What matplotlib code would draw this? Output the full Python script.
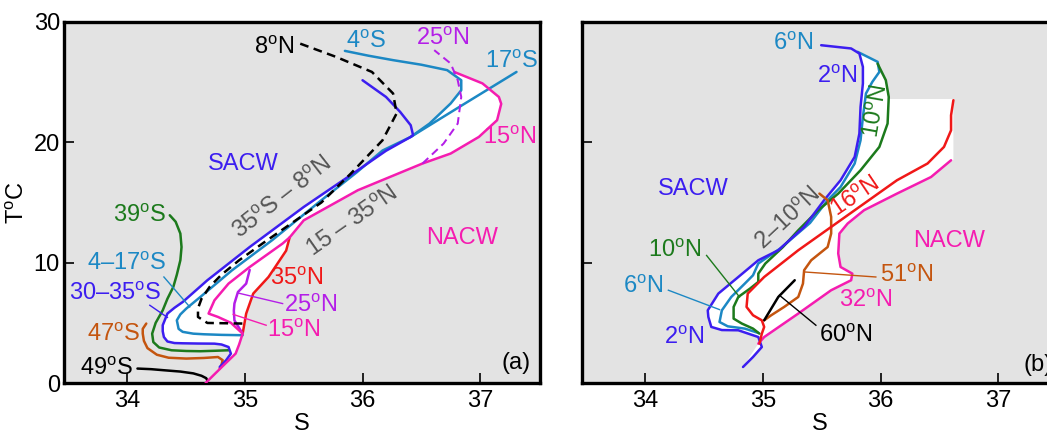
import numpy as np
import matplotlib
matplotlib.use('Agg')
import matplotlib.pyplot as plt

plt.rcParams['font.family'] = 'Liberation Sans'
plt.rcParams['mathtext.fontset'] = 'custom'
plt.rcParams['mathtext.rm'] = 'Liberation Sans'
plt.rcParams['mathtext.it'] = 'Liberation Sans:italic'

D = r'$^{\mathrm{o}}$'

BLUE = '#3c1ef0'
CYAN = '#1c88c4'
GREEN = '#1c7a1c'
ORANGE = '#c4550f'
MAGENTA = '#f51cb0'
PURPLE = '#b41ee8'
RED = '#f01818'
GREY = '#555555'
BG = '#e3e3e3'

XTICKS = [34, 35, 36, 37]
YTICKS = [0, 10, 20, 30]

# ---------------- panel (a) : S, T pairs ----------------
a49s_S = [34.085, 34.2, 34.31, 34.45, 34.56, 34.63, 34.67, 34.68]
a49s_T = [1.2, 1.15, 1.06, 0.95, 0.8, 0.6, 0.4, 0.2]

a47s_S = [34.16, 34.13, 34.13, 34.14, 34.17, 34.25, 34.35, 34.50, 34.65, 34.77, 34.81, 34.80, 34.785]
a47s_T = [4.94, 4.5, 4.1, 3.5, 2.9, 2.35, 2.1, 2.03, 2.08, 2.16, 1.9, 1.5, 1.2]

a39s_S = [34.36, 34.41, 34.45, 34.46, 34.45, 34.42, 34.39, 34.34, 34.30, 34.24, 34.21, 34.22,
          34.27, 34.375, 34.5, 34.62, 34.75, 34.86]
a39s_T = [13.94, 13.4, 12.42, 11.3, 10.2, 9.0, 7.98, 7.0, 6.04, 5.0, 4.1, 3.4,
          2.95, 2.72, 2.66, 2.64, 2.68, 2.72]

# 30-35S (SACW envelope) + upper branch
a30s_S = [34.785, 34.84, 34.88, 34.86, 34.8, 34.74, 34.6, 34.47, 34.40, 34.34, 34.31, 34.30, 34.30,
          34.34, 34.40, 34.47, 34.68, 35.04, 35.50, 35.96, 36.20, 36.41,
          36.43, 36.41, 36.32, 36.20, 36.0]
a30s_T = [1.33, 1.9, 2.44, 2.99, 3.2, 3.27, 3.28, 3.3, 3.32, 3.45, 3.82, 4.3, 4.8,
          5.77, 6.25, 6.73, 8.54, 11.3, 14.63, 17.68, 19.3, 20.45,
          20.6, 21.42, 22.53, 23.77, 25.16]
A30_JUNCTION = 21

# 4-17S (lower) + 4S branch
a4s_S = [34.98, 34.8, 34.65, 34.56, 34.47, 34.435, 34.42, 34.45, 34.50, 34.62, 34.89, 35.23, 35.65,
         35.95, 36.17, 36.41, 36.57, 36.75, 36.84, 36.84, 36.72, 36.5, 36.26, 36.05, 35.85]
a4s_T = [3.97, 4.0, 4.05, 4.1, 4.25, 4.5, 5.21, 5.7, 6.18, 7.15, 9.37, 11.86, 15.19,
         17.5, 19.32, 20.45, 21.56, 23.23, 24.33, 25.16, 26.0, 26.45, 26.83, 27.2, 27.6]
A4_JUNCTION = 15
A4_TOP = 19

a17s_S = [36.41, 36.85, 37.31]
a17s_T = [20.45, 23.1, 25.85]

a8n_S = [35.47, 35.775, 36.08, 36.26, 36.29, 36.17, 35.90, 35.65, 35.40, 35.15, 34.95, 34.80,
         34.70, 34.63, 34.60, 34.60, 34.68, 34.98]
a8n_T = [28.2, 27.1, 25.85, 24.06, 22.4, 20.17, 17.4, 15.0, 13.3, 11.6, 10.2, 9.0,
         8.0, 7.0, 6.2, 5.49, 4.99, 4.94]

a15n_S = [36.78, 37.02, 37.16, 37.18, 37.145, 36.99, 36.75, 36.51, 35.96, 35.50, 35.38, 35.32,
          35.04, 34.86, 34.74, 34.69, 34.77, 34.88, 34.98, 34.95, 34.92, 34.81, 34.665]
a15n_T = [25.85, 24.9, 23.77, 23.2, 21.84, 20.45, 19.07, 18.24, 16.02, 13.52, 12.1, 11.59,
          9.64, 8.26, 6.87, 5.77, 5.49, 5.0, 4.1, 3.2, 2.44, 1.4, 0.0]
A15_RED = 10
A15_DEEP = 18

a35n_S = [34.98, 35.01, 35.07, 35.20, 35.35, 35.38]
a35n_T = [4.1, 5.77, 7.43, 8.81, 11.0, 12.1]

a25n_S = [34.98, 34.91, 34.905, 34.91, 34.94, 35.01, 35.04]
a25n_T = [4.1, 5.21, 6.0, 6.6, 7.56, 8.26, 9.4]
a25n_up_S = [36.51, 36.69, 36.81, 36.84, 36.81, 36.75, 36.61]
a25n_up_T = [18.24, 19.9, 21.56, 23.77, 25.16, 26.55, 27.66]

# leaders: (S pair, T pair, colour)
a_leaders = [([34.31, 34.53], [8.81, 6.32], CYAN),
             ([34.19, 34.34], [6.46, 5.45], BLUE),
             ([35.32, 34.94], [6.6, 7.48], PURPLE),
             ([35.18, 34.90], [4.8, 5.7], MAGENTA)]

a_labels = [('8' + D + 'N', 35.25, 27.86, 'k', 0),
            ('4' + D + 'S', 36.03, 28.35, CYAN, 0),
            ('25' + D + 'N', 36.68, 28.57, PURPLE, 0),
            ('17' + D + 'S', 37.27, 26.7, CYAN, 0),
            ('15' + D + 'N', 37.25, 20.4, MAGENTA, 0),
            ('SACW', 34.985, 18.2, BLUE, 0),
            ('35' + D + 'S – 8' + D + 'N', 35.32, 15.4, GREY, 38),
            ('15 – 35' + D + 'N', 35.92, 13.4, GREY, 35),
            ('NACW', 36.85, 12.07, MAGENTA, 0),
            ('39' + D + 'S', 34.10, 13.86, GREEN, 0),
            ('4–17' + D + 'S', 33.99, 9.9, CYAN, 0),
            ('30–35' + D + 'S', 33.895, 7.37, BLUE, 0),
            ('47' + D + 'S', 33.88, 3.96, ORANGE, 0),
            ('49' + D + 'S', 33.82, 1.18, 'k', 0),
            ('35' + D + 'N', 35.44, 8.62, RED, 0),
            ('25' + D + 'N', 35.555, 6.38, PURPLE, 0),
            ('15' + D + 'N', 35.41, 4.3, MAGENTA, 0),
            ('(a)', 37.305, 1.68, 'k', 0)]

# ---------------- panel (b) ----------------
b2n_S = [35.495, 35.75, 35.82, 35.85, 35.85, 35.83, 35.82, 35.78, 35.66, 35.52, 35.35, 35.13, 34.96,
         34.79, 34.62, 34.53, 34.535, 34.56, 34.65, 34.79, 34.96, 34.99, 34.915, 34.83]
b2n_T = [28.07, 27.8, 27.38, 26.27, 24.89, 22.94, 20.73, 18.79, 16.85, 15.19, 12.97, 11.03, 10.2,
         8.81, 7.43, 6.04, 5.49, 4.66, 4.4, 4.38, 3.82, 2.99, 2.16, 1.33]

b6n_S = [35.805, 35.975, 35.99, 35.93, 35.876, 35.85, 35.83, 35.78, 35.66, 35.55, 35.40, 35.15,
         34.96, 34.915, 34.845, 34.73, 34.65, 34.63, 34.70, 34.845, 34.96]
b6n_T = [27.52, 26.69, 25.85, 25.02, 24.06, 22.11, 20.17, 18.24, 16.29, 15.19, 13.3, 11.2,
         9.93, 8.95, 8.26, 7.15, 6.04, 5.07, 4.71, 4.52, 4.16]

b10n_S = [35.975, 36.045, 36.07, 36.06, 35.99, 35.83, 35.64, 35.47, 35.30, 35.17, 35.02, 34.96,
          34.96, 34.89, 34.79, 34.75, 34.75, 34.82, 34.915, 34.97]
b10n_T = [26.54, 25.16, 23.77, 21.56, 19.62, 17.68, 15.74, 14.36, 12.69, 11.3, 9.93, 9.09,
          8.4, 7.85, 7.15, 6.32, 5.35, 4.94, 4.52, 4.1]

b16n_S = [36.62, 36.60, 36.60, 36.54, 36.40, 36.14, 35.86, 35.58, 35.30, 35.01, 34.87, 34.86,
          34.915, 34.99, 35.01, 34.99, 34.97]
b16n_T = [23.5, 22.25, 21.0, 19.62, 18.24, 16.85, 14.91, 12.97, 11.03, 8.81, 7.43, 6.32,
          5.63, 5.21, 4.66, 4.1, 3.27]

b51n_S = [35.48, 35.55, 35.58, 35.58, 35.55, 35.41, 35.35, 35.34, 35.30, 35.18, 35.07, 35.01]
b51n_T = [15.74, 15.19, 13.8, 12.42, 11.3, 10.2, 9.37, 8.26, 7.15, 6.32, 5.63, 5.21]

b60n_S = [35.01, 35.13, 35.27]
b60n_T = [5.21, 7.15, 8.54]

b32n_S = [36.60, 36.43, 36.14, 35.86, 35.72, 35.65, 35.64, 35.66, 35.76, 35.75, 35.58, 35.30,
          35.01, 34.96]
b32n_T = [18.51, 17.12, 15.74, 14.36, 13.25, 12.42, 10.76, 9.64, 9.09, 8.54, 7.71, 5.77,
          3.82, 3.27]

B_TOP_T = 23.6          # upper edge of the white band in (b)

b_leaders = [([34.195, 34.63], [7.71, 6.1], CYAN),
             ([34.52, 34.80], [10.6, 7.15], GREEN),
             ([35.96, 35.35], [8.81, 9.23], ORANGE),
             ([35.45, 35.14], [4.8, 7.29], 'k')]

b_labels = [('6' + D + 'N', 35.26, 28.15, CYAN, 0),
            ('2' + D + 'N', 35.63, 25.44, BLUE, 0),
            ('10' + D + 'N', 35.97, 22.6, GREEN, 80),
            ('2–10' + D + 'N', 35.22, 13.6, GREY, 43),
            ('16' + D + 'N', 35.785, 15.46, RED, 34),
            ('SACW', 34.41, 16.1, BLUE, 0),
            ('NACW', 36.58, 11.78, MAGENTA, 0),
            ('10' + D + 'N', 34.25, 10.95, GREEN, 0),
            ('6' + D + 'N', 33.98, 7.96, CYAN, 0),
            ('51' + D + 'N', 36.22, 8.87, ORANGE, 0),
            ('32' + D + 'N', 35.87, 6.8, MAGENTA, 0),
            ('60' + D + 'N', 35.70, 3.9, 'k', 0),
            ('2' + D + 'N', 34.33, 3.76, BLUE, 0)]

LW = 1.8
LWL = 1.0
FS = 17


def setup(ax, ylabels=True):
    ax.set_facecolor(BG)
    ax.set_xlim(33.46, 37.51)
    ax.set_ylim(0, 30)
    ax.set_xticks(XTICKS)
    ax.set_yticks(YTICKS)
    if not ylabels:
        ax.set_yticklabels([])
    ax.tick_params(direction='in', length=7, width=1.2, labelsize=17, pad=3)
    ax.tick_params(axis='x', pad=5)
    for sp in ax.spines.values():
        sp.set_linewidth(2.4)
    ax.set_xlabel('S', fontsize=17, labelpad=1)


def put_labels(ax, labels):
    for txt, s, t, c, rot in labels:
        ax.text(s, t, txt, color=c, fontsize=FS, rotation=rot,
                ha='center', va='center', rotation_mode='anchor')


fig = plt.figure(figsize=(10.47, 4.38), dpi=100)
axa = fig.add_axes([64 / 1047, 55 / 438, 476 / 1047, 361 / 438])
axb = fig.add_axes([582 / 1047, 55 / 438, 476 / 1047, 361 / 438])

# ---- (a)
setup(axa)
axa.set_ylabel('T' + D + 'C', fontsize=17, labelpad=3)

wa_S = np.concatenate([a30s_S[:A30_JUNCTION + 1], a4s_S[A4_JUNCTION + 1:A4_TOP + 1],
                       a15n_S[:A15_RED + 1], a35n_S[::-1], a15n_S[A15_DEEP + 1:]])
wa_T = np.concatenate([a30s_T[:A30_JUNCTION + 1], a4s_T[A4_JUNCTION + 1:A4_TOP + 1],
                       a15n_T[:A15_RED + 1], a35n_T[::-1], a15n_T[A15_DEEP + 1:]])
axa.fill(wa_S, wa_T, color='white', lw=0, zorder=1)

for s, t, c in [(a49s_S, a49s_T, 'k'), (a47s_S, a47s_T, ORANGE), (a39s_S, a39s_T, GREEN),
                (a4s_S, a4s_T, CYAN), (a17s_S, a17s_T, CYAN), (a30s_S, a30s_T, BLUE),
                (a35n_S, a35n_T, RED), (a25n_S, a25n_T, PURPLE), (a15n_S, a15n_T, MAGENTA)]:
    axa.plot(s, t, color=c, lw=LW, solid_joinstyle='round', solid_capstyle='round', zorder=3)
axa.plot(a8n_S, a8n_T, color='k', lw=LW, ls=(0, (3.5, 2.2)), zorder=3)
axa.plot(a25n_up_S, a25n_up_T, color=PURPLE, lw=LW * 0.8, ls=(0, (4, 2.5)), zorder=3)
for s, t, c in a_leaders:
    axa.plot(s, t, color=c, lw=LWL, zorder=3)
put_labels(axa, a_labels)

# ---- (b)
setup(axb, ylabels=False)
b2n_r_S = b2n_S[::-1]
b2n_r_T = b2n_T[::-1]
wb_S = np.concatenate([b2n_r_S[:-2], b6n_S[1:3], b10n_S[1:3], [b10n_S[2], b16n_S[0], b16n_S[0]],
                       b32n_S])
wb_T = np.concatenate([b2n_r_T[:-2], b6n_T[1:3], b10n_T[1:3], [B_TOP_T, B_TOP_T, b32n_T[0]],
                       b32n_T])
axb.fill(wb_S, wb_T, color='white', lw=0, zorder=1)

for s, t, c in [(b6n_S, b6n_T, CYAN), (b10n_S, b10n_T, GREEN), (b2n_S, b2n_T, BLUE),
                (b51n_S, b51n_T, ORANGE), (b60n_S, b60n_T, 'k'), (b32n_S, b32n_T, MAGENTA),
                (b16n_S, b16n_T, RED)]:
    axb.plot(s, t, color=c, lw=LW, solid_joinstyle='round', solid_capstyle='round', zorder=3)
for s, t, c in b_leaders:
    axb.plot(s, t, color=c, lw=LWL, zorder=3)
put_labels(axb, b_labels)
axb.text(37.22, 1.5, '(b)', fontsize=FS, ha='left', va='center')

fig.savefig('out.png', dpi=100)
